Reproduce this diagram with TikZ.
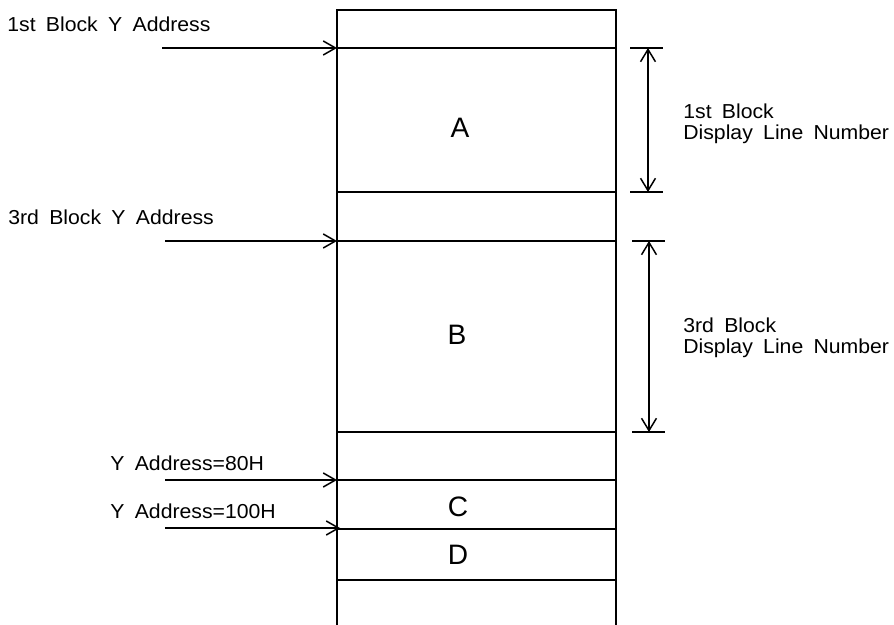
\documentclass[tikz,border=0pt]{standalone}
\usepackage{fontspec}
\setmainfont{Liberation Sans}
\newfontfamily\labelfont[FakeStretch=1.05,WordSpace=1.75]{Liberation Sans}
\usetikzlibrary{
    arrows.meta
}
\definecolor{ink}{RGB}{0,0,0}
\tikzset{
    line join=miter,
    wall/.style={
        draw=ink,
        line width=1.1pt
    },
    rowline/.style={
        draw=ink,
        line width=0.85pt
    },
    addrarrow/.style={
        -{Straight Barb[length=7pt, width=8pt, line width=0.85pt]},
        draw=ink,
        line width=0.85pt
    },
    spanarrow/.style={
        {Straight Barb[length=7pt, width=8.5pt, line width=0.85pt]}-{Straight Barb[length=7pt, width=8.5pt, line width=0.85pt]},
        draw=ink,
        line width=0.85pt
    },
    tick/.style={
        draw=ink,
        line width=0.85pt
    },
    addrlabel/.style={
        font=\labelfont\fontsize{11.5}{13.8}\selectfont,
        text=ink,
        anchor=base west,
        inner sep=0pt
    },
    blocklabel/.style={
        font=\fontsize{16}{19}\selectfont,
        text=ink
    }
}

\begin{document}
\begin{tikzpicture}[x=0.02cm, y=-0.02cm]
\useasboundingbox (0,0) rectangle (894,625);

% memory column, open at the bottom
\coordinate (topL) at (337,10);
\coordinate (topR) at (616,10);
\coordinate (botL) at (337,625);
\coordinate (botR) at (616,625);
\draw[wall] (botL) -- (topL) -- (topR) -- (botR);

\foreach \n/\y in {1/48, 2/192, 3/241, 4/432, 5/480, 6/529, 7/580} {
    \coordinate (rowL\n) at (337,\y);
    \coordinate (rowR\n) at (616,\y);
    \draw[rowline] (rowL\n) -- (rowR\n);
}

\node[blocklabel] (blkA) at (460,128) {A};
\node[blocklabel] (blkB) at (457,335) {B};
\node[blocklabel] (blkC) at (458,507) {C};
\node[blocklabel] (blkD) at (458,555) {D};

% Y address pointers
\node[addrlabel] (addr1) at (7,32) {1st Block Y Address};
\node[addrlabel] (addr3) at (8,225) {3rd Block Y Address};
\node[addrlabel] (addr80) at (110,471) {Y Address=80H};
\node[addrlabel] (addr100) at (110,519) {Y Address=100H};

\coordinate (src1) at (162,48);
\coordinate (src3) at (165,241);
\coordinate (src80) at (165,480);
\coordinate (src100) at (165,528);
\coordinate (dst100) at (340,528);
\draw[addrarrow] (src1) -- (rowL1);
\draw[addrarrow] (src3) -- (rowL3);
\draw[addrarrow] (src80) -- (rowL5);
\draw[addrarrow] (src100) -- (dst100);

% display line spans
\coordinate (tick1a) at (630,48);
\coordinate (tick1b) at (663,48);
\coordinate (tick2a) at (630,192);
\coordinate (tick2b) at (663,192);
\coordinate (tick3a) at (632,241);
\coordinate (tick3b) at (665,241);
\coordinate (tick4a) at (632,432);
\coordinate (tick4b) at (665,432);
\draw[tick] (tick1a) -- (tick1b);
\draw[tick] (tick2a) -- (tick2b);
\draw[tick] (tick3a) -- (tick3b);
\draw[tick] (tick4a) -- (tick4b);

\coordinate (span1t) at (648,48);
\coordinate (span1b) at (648,192);
\coordinate (span3t) at (649,241);
\coordinate (span3b) at (649,432);
\draw[spanarrow] (span1t) -- (span1b);
\draw[spanarrow] (span3t) -- (span3b);

\node[addrlabel] (span1top) at (683,119) {1st Block};
\node[addrlabel] (span1bot) at (683,140) {Display Line Number};
\node[addrlabel] (span3top) at (683,333) {3rd Block};
\node[addrlabel] (span3bot) at (683,354) {Display Line Number};

\end{tikzpicture}
\end{document}
